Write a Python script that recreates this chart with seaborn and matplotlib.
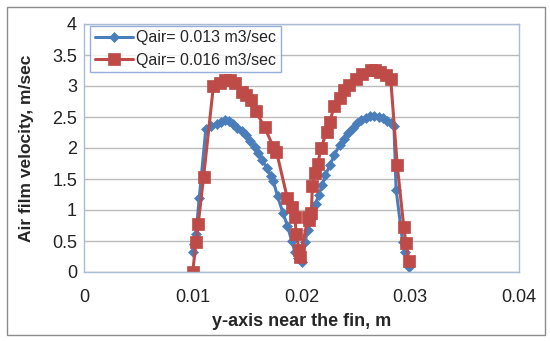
import numpy as np
import pandas as pd
import matplotlib
matplotlib.use("Agg")
import matplotlib.pyplot as plt
from matplotlib.patches import Rectangle
import seaborn as sns

# Air film velocity profiles across the gap near the fin
x_q013 = [0.0100, 0.0101, 0.0103, 0.0106, 0.0112, 0.0117, 0.0122, 0.0126, 0.0130, 0.0133,
          0.0137, 0.0141, 0.0145, 0.0149, 0.0153, 0.0157, 0.0160, 0.0164, 0.0168, 0.0172,
          0.0174, 0.0178, 0.0183, 0.0187, 0.0191, 0.0194, 0.0197, 0.0200, 0.0203, 0.0206,
          0.0209, 0.0213, 0.0216, 0.0219, 0.0222, 0.0226, 0.0230, 0.0235, 0.0239, 0.0243,
          0.0247, 0.0251, 0.0255, 0.0259, 0.0263, 0.0267, 0.0271, 0.0275, 0.0279, 0.0282,
          0.0285, 0.0287, 0.0293, 0.0295, 0.0299]
v_q013 = [0.33, 0.45, 0.62, 1.20, 2.30, 2.35, 2.38, 2.42, 2.45, 2.43,
          2.38, 2.32, 2.28, 2.21, 2.12, 2.02, 1.92, 1.80, 1.68, 1.55,
          1.47, 1.22, 0.95, 0.75, 0.50, 0.32, 0.22, 0.16, 0.48, 0.68,
          0.85, 1.10, 1.25, 1.40, 1.56, 1.72, 1.88, 2.05, 2.15, 2.25,
          2.33, 2.40, 2.45, 2.49, 2.52, 2.52, 2.50, 2.48, 2.44, 2.41,
          2.36, 1.33, 0.48, 0.33, 0.08]

x_q016 = [0.0100, 0.0103, 0.0105, 0.0110, 0.0119, 0.0125, 0.0130, 0.0134, 0.0139, 0.0145,
          0.0149, 0.0154, 0.0158, 0.0166, 0.0174, 0.0177, 0.0187, 0.0191, 0.0194, 0.0195,
          0.0198, 0.0199, 0.0206, 0.0207, 0.0209, 0.0210, 0.0212, 0.0215, 0.0218, 0.0223,
          0.0226, 0.0230, 0.0235, 0.0239, 0.0244, 0.0250, 0.0256, 0.0264, 0.0268, 0.0272,
          0.0278, 0.0282, 0.0288, 0.0294, 0.0296, 0.0299]
v_q016 = [0.00, 0.49, 0.77, 1.54, 3.00, 3.05, 3.10, 3.10, 3.05, 2.90,
          2.85, 2.77, 2.59, 2.34, 2.02, 1.94, 1.19, 1.05, 0.89, 0.62,
          0.35, 0.25, 0.89, 0.84, 0.95, 1.38, 1.60, 1.75, 2.00, 2.26,
          2.42, 2.67, 2.80, 2.94, 3.02, 3.12, 3.20, 3.26, 3.26, 3.22,
          3.18, 3.12, 1.73, 0.73, 0.46, 0.17]

labels = ["Qair= 0.013 m3/sec", "Qair= 0.016 m3/sec"]
x_ticks = [0, 0.01, 0.02, 0.03, 0.04]
x_ticklabels = ["0", "0.01", "0.02", "0.03", "0.04"]
y_ticks = [0, 0.5, 1, 1.5, 2, 2.5, 3, 3.5, 4]
y_ticklabels = ["0", "0.5", "1", "1.5", "2", "2.5", "3", "3.5", "4"]

df = pd.concat([
    pd.DataFrame({"y": x_q013, "v": v_q013, "series": labels[0]}),
    pd.DataFrame({"y": x_q016, "v": v_q016, "series": labels[1]}),
], ignore_index=True)

sns.set_theme(style="white")
plt.rcParams["font.family"] = ["Liberation Sans", "DejaVu Sans"]

fig = plt.figure(figsize=(5.5, 3.41), dpi=100)
ax = fig.add_axes([84 / 550, 1 - 272 / 341, (519 - 84) / 550, (272 - 24) / 341])

palette = {labels[0]: "#4A7EBB", labels[1]: "#BE4B48"}
markers = {labels[0]: "D", labels[1]: "s"}
sizes = {labels[0]: 5.5, labels[1]: 9}

for lab in labels:
    sub = df[df["series"] == lab]
    sns.lineplot(data=sub, x="y", y="v", ax=ax, sort=False, estimator=None,
                 color=palette[lab], marker=markers[lab], markersize=sizes[lab],
                 markeredgecolor=palette[lab], markeredgewidth=0.5,
                 linewidth=2.2, label=lab)

ax.set_xlim(0, 0.04)
ax.set_ylim(0, 4)
ax.set_xticks(x_ticks)
ax.set_xticklabels(x_ticklabels)
ax.set_yticks(y_ticks)
ax.set_yticklabels(y_ticklabels)
ax.tick_params(axis="both", length=0, labelsize=13, colors="#222222")
ax.tick_params(axis="x", pad=12)
ax.tick_params(axis="y", pad=5)

ax.yaxis.grid(True, color="#BBBBBB", linewidth=1.0)
ax.xaxis.grid(False)
ax.set_axisbelow(True)
for s in ax.spines.values():
    s.set_color("#A9BCD6")
    s.set_linewidth(1.0)

ax.set_xlabel("y-axis near the fin, m", fontsize=13, fontweight="bold")
ax.set_ylabel("Air film velocity, m/sec", fontsize=12.5, fontweight="bold")
ax.xaxis.set_label_coords(0.5, -0.165)
ax.yaxis.set_label_coords(-0.115, 0.5)

leg = ax.legend(loc="upper left", bbox_to_anchor=(0.01, 1.0), frameon=True,
                fancybox=False, fontsize=11.5, handlelength=2.4, handletextpad=0.2,
                borderpad=0.3, labelspacing=0.45, borderaxespad=0.1)
leg.get_frame().set_edgecolor("#7B9BD1")
leg.get_frame().set_linewidth(1.0)

# chart area border
fig.patches.append(Rectangle((7 / 550, 6 / 341), 538 / 550, 328 / 341,
                             transform=fig.transFigure, fill=False,
                             edgecolor="#8C8C8C", linewidth=1.0))

fig.savefig("out.png", dpi=100, facecolor="white")
